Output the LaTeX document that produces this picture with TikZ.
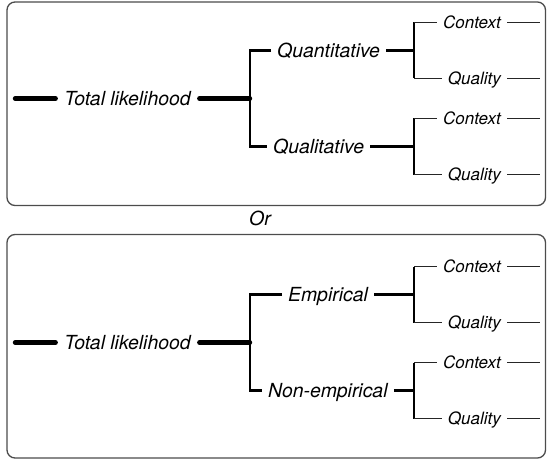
\documentclass[tikz,border=0pt]{standalone}
\usepackage{fontspec}
\setmainfont{TeX Gyre Heros}
\newcommand\lhtree[5]{%
  \coordinate (#1r) at (15,98.5);
  \node[big,inner xsep=8.5pt] (#1t) at (127.5,98.5) {Total likelihood};
  \coordinate (#1j) at (250,98.5);
  \node[big,anchor=west] (#1a) at (#3,50.5) {#2};
  \node[big,anchor=west] (#1b) at (#5,146.5) {#4};
  \coordinate (#1ja) at (414,50.5);
  \coordinate (#1jb) at (414,146.5);
  \node[leaf,anchor=east] (#1ac) at (507,22.5) {Context};
  \node[leaf,anchor=east] (#1aq) at (507,78.5) {Quality};
  \node[leaf,anchor=east] (#1bc) at (507,118.5) {Context};
  \node[leaf,anchor=east] (#1bq) at (507,174.5) {Quality};
  \coordinate (#1ace) at (540,22.5);
  \coordinate (#1aqe) at (540,78.5);
  \coordinate (#1bce) at (540,118.5);
  \coordinate (#1bqe) at (540,174.5);
  \draw[rootln] (#1r) -- (#1t.west);
  \draw[rootln] (#1t.east) -- (#1j);
  \draw[brk] (#1a.west) -| (#1j) |- (#1b.west);
  \draw[brline] (#1a.east) -- (#1ja);
  \draw[brline] (#1b.east) -- (#1jb);
  \draw[vln] (#1ac.west -| #1ja) -- (#1aq.west -| #1ja);
  \draw[vln] (#1bc.west -| #1jb) -- (#1bq.west -| #1jb);
  \draw[lfln] (#1ac.west -| #1ja) -- (#1ac.west);
  \draw[lfln] (#1aq.west -| #1ja) -- (#1aq.west);
  \draw[lfln] (#1bc.west -| #1jb) -- (#1bc.west);
  \draw[lfln] (#1bq.west -| #1jb) -- (#1bq.west);
  \draw[lfln] (#1ac.east) -- (#1ace);
  \draw[lfln] (#1aq.east) -- (#1aqe);
  \draw[lfln] (#1bc.east) -- (#1bce);
  \draw[lfln] (#1bq.east) -- (#1bqe);
}
\begin{document}
\begin{tikzpicture}[x=1pt,y=-1pt,
  box/.style={draw=black!70, line width=1.3pt, rounded corners=8pt},
  big/.style={font=\fontsize{19.4}{22}\selectfont\itshape, inner xsep=6pt, inner ysep=0pt, text height=13.9pt, text depth=0pt},
  leaf/.style={font=\fontsize{17}{20}\selectfont\itshape, inner xsep=6pt, inner ysep=0pt, text height=12.2pt, text depth=0pt},
  rootln/.style={line width=4.4pt, line cap=round},
  brk/.style={line width=2.8pt},
  brline/.style={line width=2.7pt},
  vln/.style={line width=1.7pt},
  lfln/.style={line width=1.1pt, draw=black!85}]
\useasboundingbox (0,0) rectangle (547,460);
\draw[box] (7,2) rectangle (545.5,205.5);
\draw[box] (7,234.5) rectangle (545.5,458);
\lhtree{A}{Quantitative}{271}{Qualitative}{267}
\node[big,inner xsep=0pt] (or) at (260,219) {Or};
\begin{scope}[shift={(0,244)}]
\lhtree{B}{Empirical}{282}{Non-empirical}{262}
\end{scope}
\end{tikzpicture}
\end{document}
